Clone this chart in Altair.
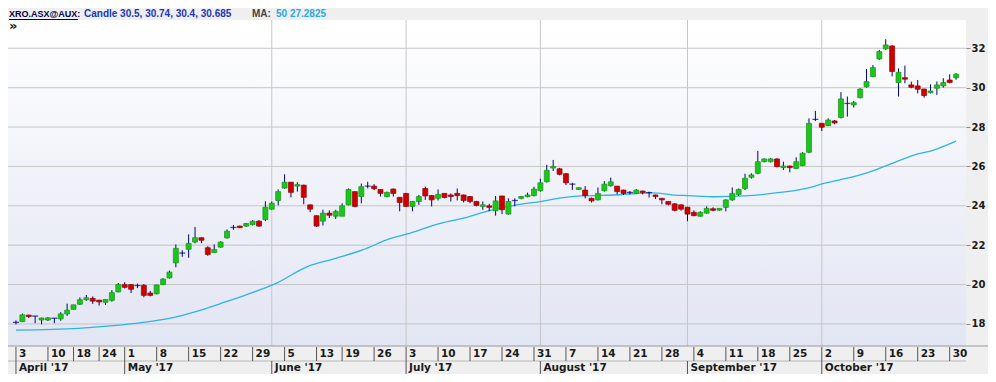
import altair as alt
import pandas as pd

# ---------------- data ----------------
opens = [18.08, 18.12, 18.45, 18.40, 18.20, 18.20, 18.29, 18.26, 18.51, 18.74,
         19.00, 19.23, 19.30, 19.21, 19.10, 19.20, 19.63, 20.00, 20.00, 19.95,
         19.96, 19.57, 19.53, 20.00, 20.34, 21.10, 21.60, 21.79, 22.16, 22.38,
         21.87, 21.63, 21.90, 22.37, 22.90, 22.97, 22.97, 23.05, 23.22, 23.30,
         23.83, 24.27, 24.90, 25.20, 25.00, 25.05, 24.05, 23.50, 23.22, 23.63,
         23.47, 23.47, 24.05, 24.72, 24.47, 25.00, 25.00, 24.83, 24.47, 24.85,
         24.43, 24.63, 23.97, 24.22, 24.88, 24.52, 24.38, 24.63, 24.55, 24.63,
         24.55, 24.47, 24.22, 23.97, 24.00, 23.75, 24.50, 23.58, 24.27, 24.38,
         24.47, 24.52, 24.77, 25.22, 25.92, 25.88, 25.63, 25.10, 24.83, 24.80,
         24.38, 24.30, 24.77, 25.02, 25.00, 24.80, 24.68, 24.63, 24.75, 24.67,
         24.55, 24.38, 24.22, 24.10, 24.05, 23.93, 23.67, 23.47, 23.63, 23.85,
         23.78, 23.92, 24.30, 24.58, 24.88, 25.45, 25.65, 26.24, 26.24, 26.38,
         25.94, 26.02, 25.90, 26.04, 26.72, 28.39, 28.19, 28.07, 28.31, 28.48,
         29.20, 29.12, 29.49, 30.05, 30.56, 31.46, 31.97, 32.12, 30.26, 30.51,
         30.14, 30.09, 29.93, 29.75, 29.97, 30.09, 30.39, 30.5]
highs = [18.18, 18.53, 18.46, 18.40, 18.32, 18.35, 18.29, 18.60, 19.03, 18.98,
         19.35, 19.47, 19.40, 19.22, 19.27, 19.72, 20.08, 20.12, 20.02, 20.05,
         20.03, 19.68, 20.00, 20.32, 20.71, 22.04, 21.74, 22.55, 22.93, 22.40,
         21.95, 22.04, 22.20, 22.80, 23.03, 22.99, 23.13, 23.27, 23.27, 24.23,
         24.22, 24.83, 25.60, 25.20, 25.20, 25.07, 24.07, 23.50, 23.80, 23.77,
         23.80, 24.13, 24.88, 24.75, 25.13, 25.22, 25.10, 24.85, 24.72, 24.88,
         24.45, 24.65, 24.25, 24.55, 24.97, 24.55, 24.83, 24.65, 24.63, 24.88,
         24.57, 24.50, 24.25, 24.22, 24.10, 24.50, 24.50, 24.38, 24.38, 24.50,
         24.67, 24.97, 25.38, 26.08, 26.33, 25.93, 25.67, 25.17, 24.93, 25.00,
         24.42, 24.93, 25.25, 25.43, 25.00, 24.82, 24.75, 24.85, 24.77, 24.72,
         24.57, 24.40, 24.23, 24.13, 24.07, 23.95, 23.77, 23.72, 23.97, 23.93,
         23.88, 24.33, 24.93, 24.88, 25.63, 25.65, 26.79, 26.41, 26.42, 26.41,
         26.24, 26.04, 26.46, 26.72, 28.44, 28.82, 28.20, 28.44, 28.36, 29.77,
         29.55, 29.33, 29.97, 30.95, 31.15, 31.92, 32.46, 32.15, 30.98, 31.12,
         30.31, 30.39, 29.95, 30.17, 30.31, 30.48, 30.68, 30.74]
lows = [17.97, 18.10, 18.30, 18.04, 17.98, 18.15, 18.04, 18.16, 18.41, 18.72,
        18.97, 19.17, 19.02, 18.93, 18.96, 19.13, 19.60, 19.80, 19.57, 19.82,
        19.35, 19.40, 19.50, 19.97, 20.30, 20.88, 21.41, 21.36, 22.10, 22.10,
        21.46, 21.61, 21.87, 22.33, 22.78, 22.87, 22.93, 23.00, 22.93, 23.22,
        23.80, 24.02, 24.87, 24.43, 24.72, 24.08, 23.68, 22.92, 23.00, 23.38,
        23.33, 23.47, 24.02, 23.92, 24.13, 24.88, 24.80, 24.47, 24.43, 24.47,
        23.72, 23.95, 23.72, 24.05, 24.30, 23.97, 24.27, 24.38, 24.22, 24.27,
        24.17, 24.13, 23.97, 23.80, 23.72, 23.50, 23.58, 23.55, 23.97, 24.33,
        24.43, 24.47, 24.72, 25.18, 25.77, 25.55, 25.05, 24.80, 24.80, 24.38,
        24.17, 24.27, 24.72, 24.97, 24.58, 24.55, 24.58, 24.60, 24.58, 24.42,
        24.35, 24.08, 24.02, 23.72, 23.75, 23.22, 23.47, 23.45, 23.60, 23.72,
        23.75, 23.72, 24.25, 24.50, 24.80, 25.38, 25.60, 26.21, 26.20, 25.95,
        25.82, 25.70, 25.87, 26.02, 26.67, 28.30, 27.80, 28.06, 28.14, 28.44,
        28.53, 28.99, 29.46, 30.00, 30.53, 31.41, 31.92, 30.57, 29.55, 30.22,
        29.97, 29.71, 29.49, 29.71, 29.63, 30.00, 30.22, 30.4]
closes = [18.08, 18.46, 18.38, 18.40, 18.30, 18.31, 18.29, 18.51, 18.70, 18.97,
          19.23, 19.33, 19.16, 19.12, 19.24, 19.59, 20.00, 19.86, 19.76, 19.95,
          19.45, 19.45, 19.98, 20.28, 20.63, 21.84, 21.60, 22.09, 22.38, 22.25,
          21.53, 21.78, 22.16, 22.71, 22.90, 22.89, 23.10, 23.22, 22.97, 23.93,
          24.13, 24.72, 25.20, 24.68, 25.08, 24.43, 23.83, 22.97, 23.63, 23.52,
          23.72, 24.00, 24.83, 23.97, 24.97, 25.00, 24.87, 24.63, 24.68, 24.63,
          24.17, 23.97, 24.22, 24.47, 24.50, 24.30, 24.58, 24.42, 24.47, 24.52,
          24.27, 24.22, 24.02, 24.05, 23.92, 24.25, 23.80, 24.22, 24.27, 24.47,
          24.55, 24.85, 25.17, 25.80, 26.00, 25.60, 25.17, 25.10, 24.92, 24.52,
          24.25, 24.63, 25.10, 25.22, 24.72, 24.63, 24.68, 24.80, 24.67, 24.67,
          24.47, 24.30, 24.08, 23.77, 23.83, 23.58, 23.50, 23.67, 23.87, 23.77,
          23.87, 24.30, 24.63, 24.83, 25.40, 25.57, 26.24, 26.38, 26.38, 25.99,
          26.02, 25.94, 26.24, 26.67, 28.19, 28.39, 27.99, 28.36, 28.21, 29.43,
          29.20, 29.24, 29.93, 30.31, 31.02, 31.83, 32.17, 30.82, 30.78, 30.43,
          30.02, 29.92, 29.60, 29.83, 30.14, 30.26, 30.26, 30.685]

ma_period = 50
ma_idx = [0, 9.8, 14.8, 19.9, 24, 28.1, 32.1, 36.3, 40.4, 45.5, 50, 54.2, 58.5,
          61.1, 66.5, 70, 74, 78.1, 82, 85.3, 88.3, 93.4, 99.6, 102.6, 105.2,
          109.3, 113.9, 118.5, 123.6, 126.6, 128.7, 132.8, 136.3, 140.4, 143.5, 147]
ma_val = [17.69, 17.78, 17.90, 18.08, 18.28, 18.62, 19.05, 19.52, 20.02, 20.90,
          21.33, 21.76, 22.33, 22.56, 23.12, 23.37, 23.76, 24.04, 24.21, 24.40,
          24.50, 24.55, 24.66, 24.56, 24.52, 24.46, 24.50, 24.64, 24.89, 25.16,
          25.31, 25.65, 26.07, 26.58, 26.83, 27.2825]

day_idx = [0, 5, 9, 13, 17, 22, 27, 32, 37, 42, 47, 51, 56, 61, 66, 71, 76, 81,
           86, 91, 96, 101, 106, 111, 116, 121, 126, 131, 136, 141, 146]
day_lbl = ["3", "10", "18", "24", "1", "8", "15", "22", "29", "5", "13", "19",
           "26", "3", "10", "17", "24", "31", "7", "14", "21", "28", "4", "11",
           "18", "25", "2", "9", "16", "23", "30"]
month_idx = [0, 17, 40, 61, 82, 105, 126]
month_lbl = ["April '17", "May '17", "June '17", "July '17", "August '17",
             "September '17", "October '17"]
grid_idx = [40, 61, 82, 105, 126]
y_ticks = [18, 20, 22, 24, 26, 28, 30, 32]

# ---------------- frames ----------------
n = len(closes)
candles = pd.DataFrame({"i": list(range(n)), "open": opens, "high": highs,
                        "low": lows, "close": closes})
candles["dir"] = ["up" if c > o else ("down" if c < o else "flat")
                  for o, c in zip(opens, closes)]
bodies = candles[candles["dir"] != "flat"]
dojis = candles[candles["dir"] == "flat"]
ma = pd.DataFrame({"i": ma_idx, "ma": ma_val})
days = pd.DataFrame({"i": day_idx, "lbl": day_lbl})
months = pd.DataFrame({"i": month_idx, "lbl": month_lbl})
vgrid = pd.DataFrame({"i": grid_idx})
hgrid = pd.DataFrame({"v": y_ticks})
one = pd.DataFrame({"a": [0]})

W, H = 958, 326
NAVY = "#000080"
FONT = "DejaVu Sans"

xs = alt.Scale(domain=[-0.464, 147.77], nice=False, zero=False)
ys = alt.Scale(domain=[16.88, 33.437], nice=False, zero=False)
yaxis = alt.Axis(orient="right", values=y_ticks, title=None, grid=False,
                 domain=False, tickSize=4, tickColor="#8a8a8a", labelPadding=1,
                 labelFont=FONT, labelFontWeight="bold", labelFontSize=10,
                 labelColor="#1a1a1a")


def X(field="i"):
    return alt.X(f"{field}:Q", scale=xs, axis=None)


def Y(field):
    return alt.Y(f"{field}:Q", scale=ys, axis=yaxis)


bg = alt.Chart(one).mark_rect(
    fill=alt.Gradient(gradient="linear",
                      stops=[alt.GradientStop(color="#ffffff", offset=0),
                             alt.GradientStop(color="#e2e5f3", offset=1)],
                      x1=0, x2=0, y1=0, y2=1)
).encode(x=alt.value(0), x2=alt.value(W), y=alt.value(0), y2=alt.value(H))

hlines = alt.Chart(hgrid).mark_rule(color="#c6c6c6", strokeWidth=1).encode(
    y=Y("v"), x=alt.value(0), x2=alt.value(W))

vlines = alt.Chart(vgrid).mark_rule(color="#c6c6c6", strokeWidth=1).encode(
    x=X(), y=alt.value(0), y2=alt.value(H))

ma_line = alt.Chart(ma).mark_line(color="#2fb3e3", strokeWidth=1.3,
                                  interpolate="monotone").encode(
    x=X(), y=Y("ma"))

wicks = alt.Chart(candles).mark_rule(color=NAVY, strokeWidth=1).encode(
    x=X(), y=Y("low"), y2="high:Q")

body = alt.Chart(bodies).mark_bar(size=5, strokeWidth=0.7).encode(
    x=X(), y=Y("open"), y2="close:Q",
    fill=alt.Fill("dir:N", scale=alt.Scale(domain=["up", "down"],
                                           range=["#1ec41e", "#cc0000"]),
                  legend=None),
    stroke=alt.Stroke("dir:N", scale=alt.Scale(domain=["up", "down"],
                                               range=["#0e9a0e", "#9a0000"]),
                      legend=None))

doji = alt.Chart(dojis).mark_tick(orient="horizontal", size=6, thickness=1.3,
                                  color=NAVY).encode(x=X(), y=Y("open"))

# bottom date axis (two rows)
row_lines = alt.Chart(one).mark_rule(color="#9a9a9a", strokeWidth=1).encode(
    x=alt.value(0), x2=alt.value(W + 22), y=alt.value(H))
row_lines2 = alt.Chart(one).mark_rule(color="#b8b8b8", strokeWidth=1).encode(
    x=alt.value(0), x2=alt.value(W), y=alt.value(H + 15))
day_sep = alt.Chart(days).mark_rule(color="#555555", strokeWidth=1).encode(
    x=X(), y=alt.value(H + 1), y2=alt.value(H + 15))
day_txt = alt.Chart(days).mark_text(align="left", baseline="middle", dx=3,
                                    font=FONT, fontWeight="bold", fontSize=10.5,
                                    color="#1a1a1a").encode(
    x=X(), y=alt.value(H + 8), text="lbl:N")
mon_sep = alt.Chart(months).mark_rule(color="#555555", strokeWidth=1).encode(
    x=X(), y=alt.value(H + 15), y2=alt.value(H + 28))
mon_txt = alt.Chart(months).mark_text(align="left", baseline="middle", dx=3,
                                      font=FONT, fontWeight="bold", fontSize=10.5,
                                      color="#1a1a1a").encode(
    x=X(), y=alt.value(H + 22), text="lbl:N")

# header
hdr_font = "Liberation Sans"
t_sym = alt.Chart(one).mark_text(align="left", baseline="middle", font=hdr_font,
                                 fontWeight="bold", fontSize=9,
                                 color="#00004d").encode(
    x=alt.value(1), y=alt.value(-6), text=alt.value("XRO.ASX@AUX:"))
t_ul = alt.Chart(one).mark_rule(color="#00004d", strokeWidth=1).encode(
    x=alt.value(1), x2=alt.value(70), y=alt.value(-0.5))
t_candle = alt.Chart(one).mark_text(align="left", baseline="middle", font=hdr_font,
                                    fontWeight="bold", fontSize=10,
                                    color="#2235b8").encode(
    x=alt.value(76), y=alt.value(-6),
    text=alt.value(f"Candle {opens[-1]}, {highs[-1]}, {lows[-1]}, {closes[-1]}"))
t_ma = alt.Chart(one).mark_text(align="left", baseline="middle", font=hdr_font,
                                fontWeight="bold", fontSize=10,
                                color="#444444").encode(
    x=alt.value(244), y=alt.value(-6), text=alt.value("MA:"))
t_maval = alt.Chart(one).mark_text(align="left", baseline="middle", font=hdr_font,
                                   fontWeight="bold", fontSize=10,
                                   color="#2aa8e0").encode(
    x=alt.value(268), y=alt.value(-6), text=alt.value(f"{ma_period} {ma_val[-1]}"))
t_arrow = alt.Chart(one).mark_text(align="left", baseline="middle", font=FONT,
                                   fontWeight="bold", fontSize=13,
                                   color="#111111").encode(
    x=alt.value(1), y=alt.value(6), text=alt.value("»"))

chart = alt.layer(
    bg, hlines, vlines, ma_line, wicks, body, doji,
    row_lines, row_lines2, day_sep, day_txt, mon_sep, mon_txt,
    t_sym, t_ul, t_candle, t_ma, t_maval, t_arrow
).properties(
    width=W, height=H,
    autosize=alt.AutoSizeParams(type="none"),
    padding={"left": 0, "top": 12, "right": 22, "bottom": 28},
    background="#efefef",
).configure_view(stroke=None).resolve_scale(fill="independent",
                                             stroke="independent")

chart.save("out.html", embed_options={"renderer": "svg", "actions": False})
